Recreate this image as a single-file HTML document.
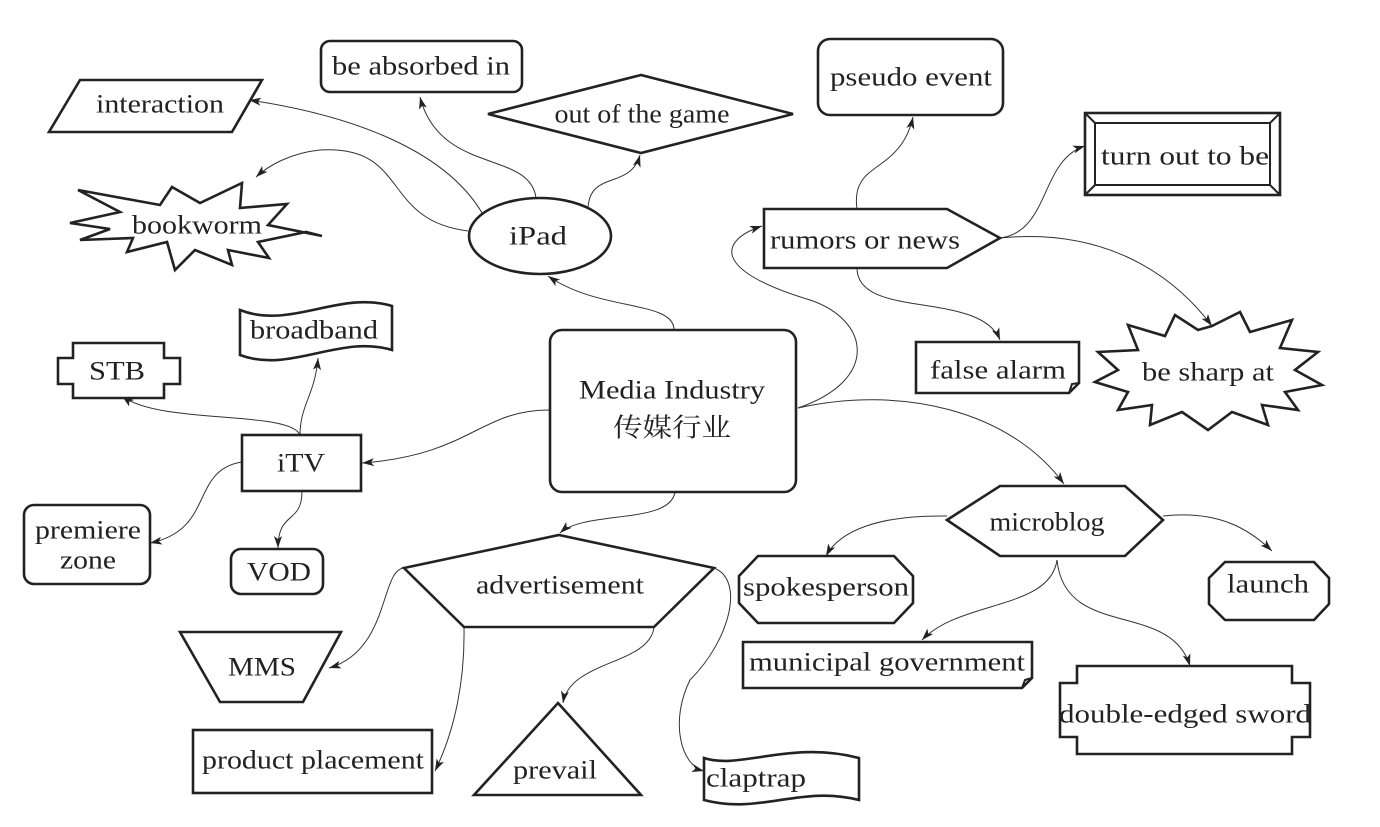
<!DOCTYPE html>
<html><head><meta charset="utf-8"><style>
html,body{margin:0;padding:0;background:#fff;}
svg{display:block;}
text{font-family:"Liberation Serif","Noto Serif CJK SC",serif;font-size:26px;fill:#222;text-anchor:middle;dominant-baseline:central;}
.s{fill:#fff;stroke:#222;stroke-width:2.6;stroke-linejoin:miter;}
.e{fill:none;stroke:#333;stroke-width:1;}
</style></head><body>
<svg width="1380" height="827" viewBox="0 0 1380 827" xmlns="http://www.w3.org/2000/svg">
<defs><marker id="a" viewBox="0 0 12 8" refX="12" refY="4" markerWidth="12" markerHeight="8" markerUnits="userSpaceOnUse" orient="auto"><path d="M0,0 L12,4 L0,8 L3,4 Z" fill="#222"/></marker></defs>

<g class="e" marker-end="url(#a)">
<path d="M674,330 C674,300 600,312 548,276"/>
<path d="M486,220 C450,150 350,115 249,100"/>
<path d="M536,198 C530,150 440,175 420,97"/>
<path d="M588,208 C590,170 630,190 640,155"/>
<path d="M468,231 C380,220 410,145 320,150 C290,153 268,166 256,177"/>
<path d="M798,408 C880,380 870,320 810,300 C710,270 720,240 762,226"/>
<path d="M857,209 C850,160 900,175 913,117"/>
<path d="M1000,238 C1050,232 1040,160 1085,146"/>
<path d="M1000,238 C1100,228 1170,270 1212,326"/>
<path d="M857,268 C857,320 980,290 1000,340"/>
<path d="M798,408 C900,385 1010,410 1064,484"/>
<path d="M947,516 C880,515 840,530 826,556"/>
<path d="M1163,516 C1220,510 1250,530 1272,551"/>
<path d="M1057,560 C1050,610 960,600 922,640"/>
<path d="M1057,560 C1065,640 1170,600 1190,666"/>
<path d="M549,410 C480,410 470,455 362,463"/>
<path d="M300,435 C300,405 315,395 318,358"/>
<path d="M300,435 C290,410 160,425 122,396"/>
<path d="M242,462 C190,470 215,530 150,543"/>
<path d="M302,491 C302,525 278,510 278,548"/>
<path d="M675,492 C670,525 585,510 560,533"/>
<path d="M404,568 C380,570 390,650 329,668"/>
<path d="M464,627 C465,680 455,730 435,771"/>
<path d="M654,627 C650,665 570,660 563,703"/>
<path d="M714,568 C745,580 730,640 690,680 C670,720 680,765 704,771"/>
</g>

<polygon class="s" points="80,80 262,80 232,132 49,132"/>
<text x="160" y="104" textLength="128" lengthAdjust="spacingAndGlyphs">interaction</text>

<rect class="s" x="321" y="41" width="201" height="51" rx="9"/>
<text x="421" y="66" textLength="178" lengthAdjust="spacingAndGlyphs">be absorbed in</text>

<polygon class="s" points="488,114 641,75 793,114 641,153"/>
<text x="642" y="114" textLength="175" lengthAdjust="spacingAndGlyphs">out of the game</text>

<polygon class="s" points="322,236 268,225 287,204 240,208 242,183 200,203 172,187 160,205 78,190 120,212 70,223 110,229 80,240 133,238 127,252 167,242 175,270 195,250 232,265 228,250 269,258 258,242 306,232"/>
<text x="197" y="225" textLength="130" lengthAdjust="spacingAndGlyphs">bookworm</text>

<ellipse class="s" cx="540" cy="236" rx="71" ry="38"/>
<text x="538" y="236" textLength="58" lengthAdjust="spacingAndGlyphs">iPad</text>

<rect class="s" x="818" y="39" width="185" height="76" rx="12"/>
<text x="911" y="77" textLength="162" lengthAdjust="spacingAndGlyphs">pseudo event</text>

<rect class="s" x="1085" y="113" width="195" height="82"/>
<rect class="s" x="1095" y="123" width="175" height="62" style="stroke-width:2"/>
<path d="M1085,113 L1095,123 M1280,113 L1270,123 M1085,195 L1095,185 M1280,195 L1270,185" stroke="#222" stroke-width="2"/>
<text x="1185" y="156" textLength="168" lengthAdjust="spacingAndGlyphs">turn out to be</text>

<polygon class="s" points="764,209 947,209 1000,238 947,268 764,268"/>
<text x="865" y="240" textLength="190" lengthAdjust="spacingAndGlyphs">rumors or news</text>

<path class="s" d="M916,342 H1079 V383 L1069,393 H916 Z"/>
<path d="M1069,393 L1072,384 L1079,383" fill="none" stroke="#222" stroke-width="2"/>
<text x="998" y="370" textLength="136" lengthAdjust="spacingAndGlyphs">false alarm</text>

<polygon class="s" points="1212,326 1240,312 1250,332 1292,320 1280,348 1318,352 1295,370 1322,385 1285,392 1298,410 1262,405 1268,425 1232,412 1208,430 1182,412 1150,425 1152,405 1118,410 1128,392 1095,382 1118,370 1098,352 1138,350 1128,325 1165,336 1175,315 1198,330"/>
<text x="1208" y="372" textLength="132" lengthAdjust="spacingAndGlyphs">be sharp at</text>

<rect class="s" x="550" y="330" width="246" height="162" rx="12"/>
<text x="672" y="390" textLength="186" lengthAdjust="spacingAndGlyphs">Media Industry</text>
<text x="672" y="428" textLength="118" lengthAdjust="spacingAndGlyphs">传媒行业</text>

<polygon class="s" points="73,343 164,343 164,358 180,358 180,384 164,384 164,398 73,398 73,384 58,384 58,358 73,358"/>
<text x="117" y="371" textLength="56" lengthAdjust="spacingAndGlyphs">STB</text>

<path class="s" d="M240,310 C290,330 340,290 392,306 V350 C340,334 290,374 240,355 Z"/>
<text x="314" y="330" textLength="128" lengthAdjust="spacingAndGlyphs">broadband</text>

<rect class="s" x="242" y="435" width="119" height="56"/>
<text x="301" y="463" textLength="48" lengthAdjust="spacingAndGlyphs">iTV</text>

<rect class="s" x="24" y="505" width="126" height="79" rx="10"/>
<text x="88" y="530" textLength="106" lengthAdjust="spacingAndGlyphs">premiere</text>
<text x="88" y="560" textLength="56" lengthAdjust="spacingAndGlyphs">zone</text>

<rect class="s" x="231" y="549" width="92" height="45" rx="10"/>
<text x="279" y="572" textLength="64" lengthAdjust="spacingAndGlyphs">VOD</text>

<polygon class="s" points="559,535 714,568 654,627 464,627 404,568"/>
<text x="560" y="585" textLength="168" lengthAdjust="spacingAndGlyphs">advertisement</text>

<polygon class="s" points="180,632 341,632 303,702 220,702"/>
<text x="262" y="667" textLength="68" lengthAdjust="spacingAndGlyphs">MMS</text>

<rect class="s" x="193" y="730" width="239" height="63"/>
<text x="313" y="760" textLength="222" lengthAdjust="spacingAndGlyphs">product placement</text>

<polygon class="s" points="558,703 641,795 474,795"/>
<text x="555" y="770" textLength="84" lengthAdjust="spacingAndGlyphs">prevail</text>

<path class="s" d="M704,758 C740,770 790,740 859,758 V800 C800,785 760,815 704,800 Z"/>
<text x="756" y="778" textLength="100" lengthAdjust="spacingAndGlyphs">claptrap</text>

<polygon class="s" points="947,520 1000,486 1125,486 1163,520 1125,556 1000,556"/>
<text x="1047" y="522" textLength="115" lengthAdjust="spacingAndGlyphs">microblog</text>

<polygon class="s" points="758,556 894,556 913,576 913,603 894,623 758,623 739,603 739,576"/>
<text x="826" y="587" textLength="166" lengthAdjust="spacingAndGlyphs">spokesperson</text>

<polygon class="s" points="1225,562 1314,562 1329,578 1329,604 1314,620 1225,620 1209,604 1209,578"/>
<text x="1268" y="584" textLength="82" lengthAdjust="spacingAndGlyphs">launch</text>

<path class="s" d="M743,642 H1032 V678 L1022,688 H743 Z"/>
<path d="M1022,688 L1025,680 L1032,678" fill="none" stroke="#222" stroke-width="2"/>
<text x="887" y="662" textLength="276" lengthAdjust="spacingAndGlyphs">municipal government</text>

<polygon class="s" points="1077,666 1292,666 1292,683 1310,683 1310,737 1292,737 1292,754 1077,754 1077,737 1060,737 1060,683 1077,683"/>
<text x="1185" y="714" textLength="252" lengthAdjust="spacingAndGlyphs">double-edged sword</text>
</svg>
</body></html>
